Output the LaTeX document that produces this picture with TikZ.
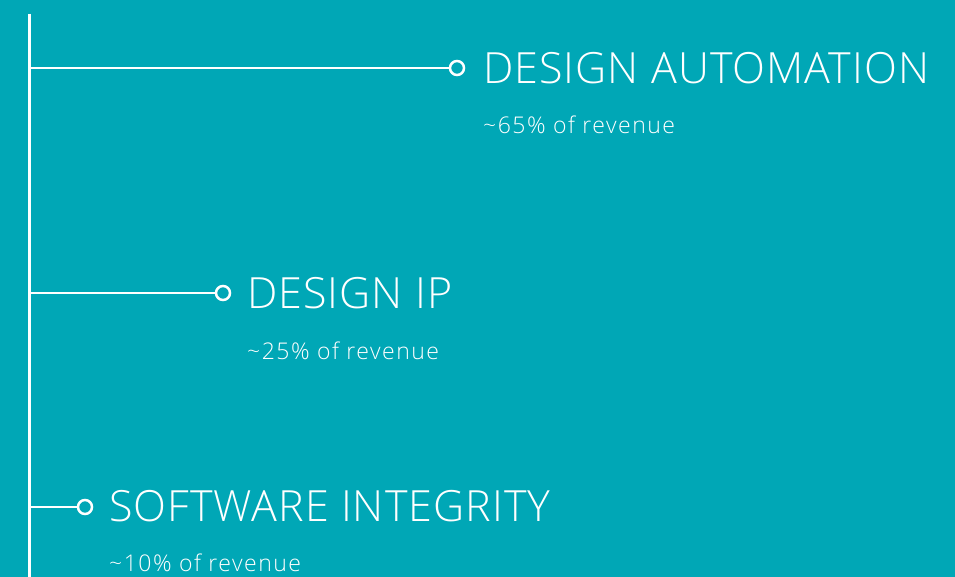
\documentclass[tikz,border=0pt]{standalone}
\usepackage{fontspec}
\setmainfont{Open Sans Light}
\newfontfamily\titlefont[LetterSpace=2.5]{Open Sans Light}
\newfontfamily\subfont[LetterSpace=6.5]{Open Sans Light}
\definecolor{bg}{HTML}{00A7B6}
\tikzset{
  trunk/.style={draw=white, line width=3pt},
  branch/.style={draw=white, line width=2.5pt},
  dot/.style={circle, draw=white, line width=2.5pt, fill=bg, minimum size=14pt, inner sep=0pt},
  title/.style={anchor=base west, text=white, font=\titlefont\fontsize{43}{43}\selectfont, inner sep=0pt},
  sub/.style={anchor=base west, text=white, font=\subfont\fontsize{23}{23}\selectfont, inner sep=0pt}
}
\begin{document}
\begin{tikzpicture}[x=1pt, y=-1pt]
\fill[bg] (0,0) rectangle (955,577);
\useasboundingbox (0,0) rectangle (955,577);
\coordinate (top) at (29,14);
\coordinate (bot) at (29,577);
\draw[trunk] (top) -- (bot);
\coordinate (b1) at (29,68);
\coordinate (b2) at (29,293);
\coordinate (b3) at (29,507);
\node[dot] (d1) at (457,68) {};
\node[dot] (d2) at (223,293) {};
\node[dot] (d3) at (85,507) {};
\draw[branch] (b1) -- (d1);
\draw[branch] (b2) -- (d2);
\draw[branch] (b3) -- (d3);
\node[title] (t1) at (483,84) {DESIGN AUTOMATION};
\node[sub] (s1) at (483,134) {\textasciitilde 65\% of revenue};
\node[title] (t2) at (247,308) {DESIGN IP};
\node[sub] (s2) at (247,359) {\textasciitilde 25\% of revenue};
\node[title] (t3) at (109,521) {SOFTWARE INTEGRITY};
\node[sub] (s3) at (109,571) {\textasciitilde 10\% of revenue};
\end{tikzpicture}
\end{document}
